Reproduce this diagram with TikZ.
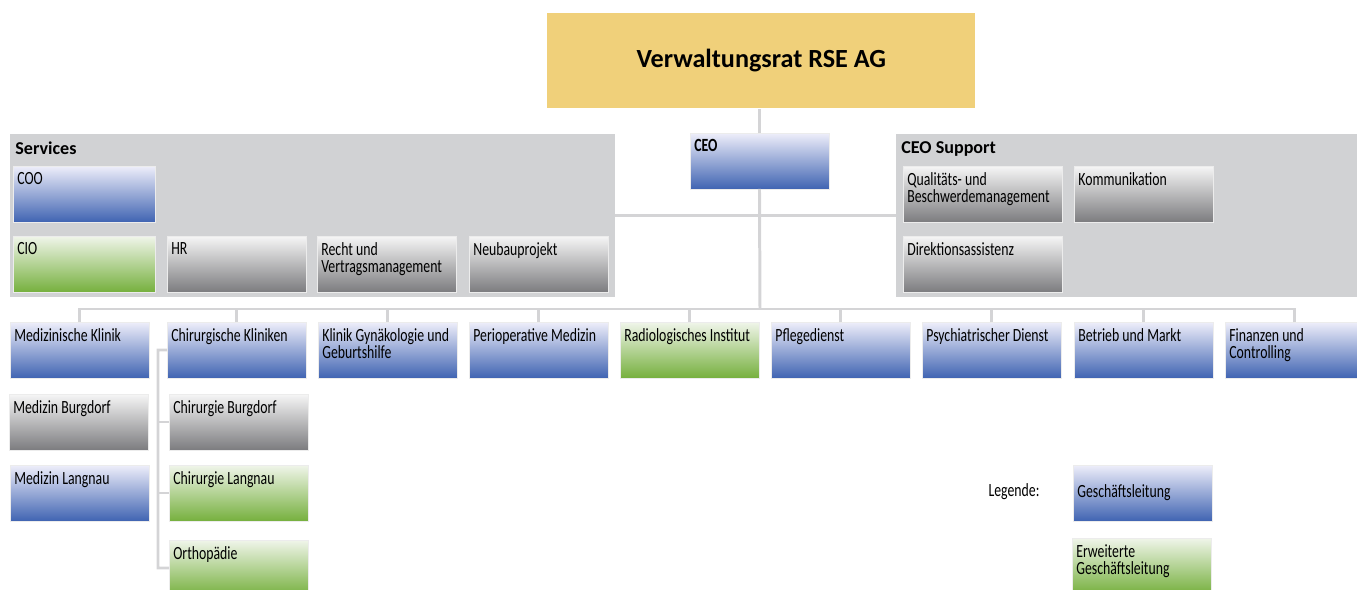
\documentclass[tikz,border=0pt]{standalone}
\usepackage{fontspec}
\setmainfont{Carlito}
\newfontfamily\condfont{Carlito}[FakeStretch=0.74]
\usepackage{tikz}
\usetikzlibrary{positioning,calc}

\definecolor{vryellow}{RGB}{240,208,122}
\definecolor{groupgray}{RGB}{209,210,212}
\definecolor{linegray}{RGB}{212,212,214}
\definecolor{blueTop}{RGB}{238,238,250}
\definecolor{blueBot}{RGB}{64,100,178}
\definecolor{grayTop}{RGB}{246,246,246}
\definecolor{grayBot}{RGB}{124,124,127}
\definecolor{greenTop}{RGB}{240,245,234}
\definecolor{greenBot}{RGB}{118,176,62}

\tikzset{
  box/.style={draw=white!85!gray, line width=0.5pt, anchor=north west, inner sep=0pt, outer sep=0pt,
              minimum width=2.78cm, minimum height=1.12cm},
  boxtext/.style={anchor=north west, align=left, inner xsep=0.08cm, inner ysep=0.12cm,
                  font=\condfont\fontsize{10.6}{9.8}\selectfont},
  glbox/.style={box, top color=blueTop, bottom color=blueBot, label={[boxtext]north west:#1}},
  eglbox/.style={box, top color=greenTop, bottom color=greenBot, label={[boxtext]north west:#1}},
  unitbox/.style={box, top color=grayTop, bottom color=grayBot, label={[boxtext]north west:#1}},
  group/.style={fill=groupgray, anchor=north west, inner sep=0pt, outer sep=0pt, minimum height=3.26cm,
                label={[anchor=north west, inner xsep=0.1cm, inner ysep=0.14cm, font=\fontsize{10.3}{12}\selectfont\bfseries]north west:#1}},
  conn/.style={draw=linegray, line width=1.7pt},
}

\begin{document}
\begin{tikzpicture}[x=0.02cm, y=-0.02cm]
  \useasboundingbox (0,0) rectangle (1357,589);

  % board
  \node[fill=vryellow, anchor=north west, minimum width=8.56cm, minimum height=1.9cm,
        font=\fontsize{14.9}{17}\selectfont\bfseries] (vr) at (547,13) {\raisebox{1.5pt}{Verwaltungsrat RSE AG}};

  % staff groups
  \node[group=Services, minimum width=12.1cm] (services) at (10,134) {};
  \node[group=CEO Support, minimum width=9.4cm] (support) at (896,134) {};

  \node[glbox={\bfseries CEO}] (ceo) at (690,133) {};

  \node[glbox=COO, minimum width=2.84cm]  (coo) at (13,166)  {};
  \node[eglbox=CIO, minimum width=2.84cm] (cio) at (13,236)  {};
  \node[unitbox=HR]  (hr)     at (167,236) {};
  \node[unitbox={Recht und\\Vertragsmanagement}] (recht) at (317,236) {};
  \node[unitbox=Neubauprojekt] (neubau) at (469,236) {};

  \node[unitbox={Qualitäts- und\\Beschwerdemanagement}, minimum width=3.18cm] (qual) at (903,166) {};
  \node[unitbox=Kommunikation]       (komm) at (1074,166) {};
  \node[unitbox=Direktionsassistenz, minimum width=3.18cm] (dir) at (903,236) {};

  % line units
  \node[glbox=Medizinische Klinik]  (mk)      at (10,322)   {};
  \node[glbox=Chirurgische Kliniken] (ck)     at (167,322)  {};
  \node[glbox={Klinik Gynäkologie und\\Geburtshilfe}] (gyn) at (318,322) {};
  \node[glbox=Perioperative Medizin] (peri)   at (469,322)  {};
  \node[eglbox=Radiologisches Institut] (rad) at (620,322)  {};
  \node[glbox=Pflegedienst]          (pflege) at (771,322)  {};
  \node[glbox=Psychiatrischer Dienst] (psych) at (922,322)  {};
  \node[glbox=Betrieb und Markt]     (betrieb) at (1074,322) {};
  \node[glbox={Finanzen und\\Controlling}] (fin) at (1225,322) {};

  \node[unitbox=Medizin Burgdorf]    (mburg)  at (9,394)    {};
  \node[glbox=Medizin Langnau]       (mlang)  at (10,465)   {};
  \node[unitbox=Chirurgie Burgdorf]  (cburg)  at (169,394)  {};
  \node[eglbox=Chirurgie Langnau]    (clang)  at (169,465)  {};
  \node[eglbox=Orthopädie]           (orth)   at (169,540)  {};

  % legend
  \node[font=\condfont\fontsize{10.6}{12}\selectfont] (legend) at (1014,492) {Legende:};
  \node[box, top color=blueTop, bottom color=blueBot,
        label={[boxtext, anchor=west]west:Geschäftsleitung}] (leggl) at (1073,465) {};
  \node[eglbox={Erweiterte\\Geschäftsleitung}] (legegl) at (1072,538) {};

  % connectors
  \coordinate (bus) at (760,309);
  \coordinate (spine) at (158,350);
  \draw[conn] (ceo.north) -- (ceo.north |- vr.south);
  \draw[conn] (services) -- (support);
  \draw[conn] (ceo.south) -- (bus);
  \foreach \n in {mk,ck,gyn,peri,rad,pflege,psych,betrieb,fin}
    \draw[conn] (\n.north) |- (bus);
  \draw[conn] (ck.west) -- (spine) |- (orth.west);
  \draw[conn] (spine |- cburg.west) -- (cburg.west);
  \draw[conn] (spine |- clang.west) -- (clang.west);
\end{tikzpicture}
\end{document}
